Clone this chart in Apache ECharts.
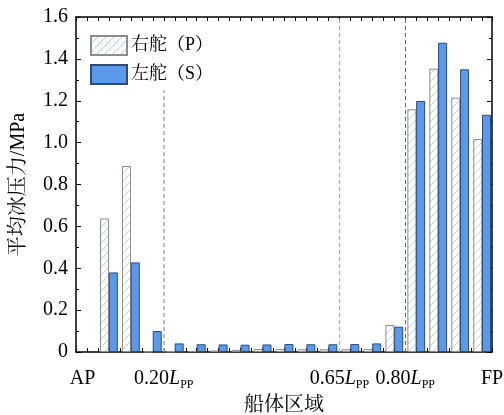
<!DOCTYPE html>
<html>
<head>
<meta charset="utf-8">
<script src="https://cdn.jsdelivr.net/npm/echarts@6/dist/echarts.min.js"></script>
<style>html,body{margin:0;padding:0;background:#fff}#c{width:504px;height:415px}</style>
</head>
<body>
<div id="c"></div>
<script>
// ---- data ----
var seriesNames = ['右舵（P）', '左舵（S）'];
var portValues = [0.638, 0.888, 0.002, 0.003, 0.005, 0.007, 0.010, 0.014, 0.014, 0.013, 0.013, 0.013, 0.014, 0.129, 1.159, 1.353, 1.215, 1.017];
var starboardValues = [0.380, 0.428, 0.100, 0.041, 0.037, 0.036, 0.035, 0.036, 0.038, 0.037, 0.037, 0.038, 0.041, 0.121, 1.199, 1.477, 1.350, 1.133];
var regionLabels = ['AP', '0.20', '0.65', '0.80', 'FP'];
var regionPositions = [-1.2, 2.5, 10.5, 13.5, 17.45];
var dividerPositions = [2.5, 10.5, 13.5];
var yTicks = [0, 0.2, 0.4, 0.6, 0.8, 1.0, 1.2, 1.4, 1.6];

var FONT = '"Liberation Serif", "Times New Roman", "Noto Serif CJK SC", "Noto Sans CJK SC", serif';

// hatch pattern
var pc = document.createElement('canvas');
pc.width = 8; pc.height = 8;
var g = pc.getContext('2d');
g.fillStyle = '#ffffff'; g.fillRect(0, 0, 8, 8);
g.strokeStyle = '#b3cff2'; g.lineWidth = 1;
g.beginPath();
g.moveTo(0, 8); g.lineTo(8, 0);
g.moveTo(-1, 1); g.lineTo(1, -1);
g.moveTo(7, 9); g.lineTo(9, 7);
g.stroke();

var chart = echarts.init(document.getElementById('c'), null, {renderer: 'canvas'});

var pData = portValues.map(function (v, i) { return [i - 0.2, v]; });
var sData = starboardValues.map(function (v, i) { return [i + 0.2, v]; });

var labelMap = {};
regionPositions.forEach(function (p, i) { labelMap[p.toFixed(2)] = regionLabels[i]; });

var axisLine = {show: true, onZero: false, lineStyle: {color: '#000', width: 1.5}};

var option = {
  animation: false,
  backgroundColor: '#fff',
  grid: {left: 76, right: 12, top: 17, bottom: 63, outerBoundsMode: 'none', containLabel: false},
  legend: {
    orient: 'vertical', left: 85, top: 30,
    itemWidth: 36, itemHeight: 19, itemGap: 8,
    icon: 'rect',
    textStyle: {fontFamily: FONT, fontSize: 18, color: '#000', padding: [0, 0, 0, -1]},
    data: seriesNames
  },
  xAxis: [{
    type: 'value', min: -1.5, max: 17.45, interval: 0.5, position: 'bottom',
    axisLine: axisLine,
    axisTick: {show: true, inside: true, length: 4, lineStyle: {color: '#000', width: 1}},
    splitLine: {show: false},
    axisLabel: {
      show: true, customValues: regionPositions, margin: 15,
      fontFamily: FONT, fontSize: 20, color: '#000',
      formatter: function (v) {
        var t = labelMap[Number(v).toFixed(2)];
        if (t === 'AP' || t === 'FP') return '{n|' + t + '}';
        return '{n|' + t + '}{i|L}{s|PP}';
      },
      rich: {
        n: {fontFamily: FONT, fontSize: 20, color: '#000', lineHeight: 24},
        i: {fontFamily: FONT, fontSize: 20, fontStyle: 'italic', color: '#000', lineHeight: 24},
        s: {fontFamily: FONT, fontSize: 12, color: '#000', lineHeight: 12, verticalAlign: 'bottom'}
      }
    },
    name: '船体区域', nameLocation: 'middle', nameGap: 42,
    nameTextStyle: {fontFamily: FONT, fontSize: 20, color: '#000'}
  }, {
    type: 'value', min: -1.5, max: 17.45, interval: 0.5, position: 'top',
    axisLine: axisLine,
    axisTick: {show: true, inside: true, length: 4, lineStyle: {color: '#000', width: 1}},
    splitLine: {show: false}, axisLabel: {show: false}
  }],
  yAxis: [{
    type: 'value', min: yTicks[0], max: yTicks[yTicks.length - 1], interval: 0.2,
    axisLine: axisLine,
    axisTick: {show: true, inside: true, length: 5, lineStyle: {color: '#000', width: 1}},
    minorTick: {show: true, splitNumber: 2, length: 3, lineStyle: {color: '#000', width: 1}},
    splitLine: {show: false},
    axisLabel: {
      margin: 8, fontFamily: FONT, fontSize: 20, color: '#000',
      formatter: function (v) { return v === 0 ? '0' : v.toFixed(1); }
    },
    name: '平均冰压力/MPa', nameLocation: 'middle', nameGap: 47,
    nameTextStyle: {fontFamily: FONT, fontSize: 20, color: '#000'}
  }, {
    type: 'value', min: yTicks[0], max: yTicks[yTicks.length - 1], interval: 0.2, position: 'right',
    axisLine: axisLine,
    axisTick: {show: true, inside: true, length: 5, lineStyle: {color: '#000', width: 1}},
    minorTick: {show: true, splitNumber: 2, length: 3, lineStyle: {color: '#000', width: 1}},
    splitLine: {show: false}, axisLabel: {show: false}
  }],
  series: [{
    name: seriesNames[0], type: 'bar', xAxisIndex: 0, yAxisIndex: 0,
    barWidth: 9, barGap: '-100%',
    itemStyle: {color: {image: pc, repeat: 'repeat'}, borderColor: '#8c8c8c', borderWidth: 1},
    data: pData
  }, {
    name: seriesNames[1], type: 'bar', xAxisIndex: 0, yAxisIndex: 0,
    barWidth: 9, barGap: '-100%',
    itemStyle: {color: '#5b9aea', borderColor: '#2d4a78', borderWidth: 1},
    data: sData,
    markLine: {
      silent: true, symbol: 'none', label: {show: false},
      data: [
        [{coord: [dividerPositions[0], 0], lineStyle: {color: '#a8a8a8', width: 1.5, type: [4, 3]}}, {coord: [dividerPositions[0], 1.25]}],
        [{coord: [dividerPositions[1], 0], lineStyle: {color: '#a8a8a8', width: 1.2, type: [4, 3]}}, {coord: [dividerPositions[1], 1.6]}],
        [{coord: [dividerPositions[2], 0], lineStyle: {color: '#666', width: 1, type: [4, 3]}}, {coord: [dividerPositions[2], 1.6]}]
      ]
    }
  }]
};
chart.setOption(option);
</script>
</body>
</html>
